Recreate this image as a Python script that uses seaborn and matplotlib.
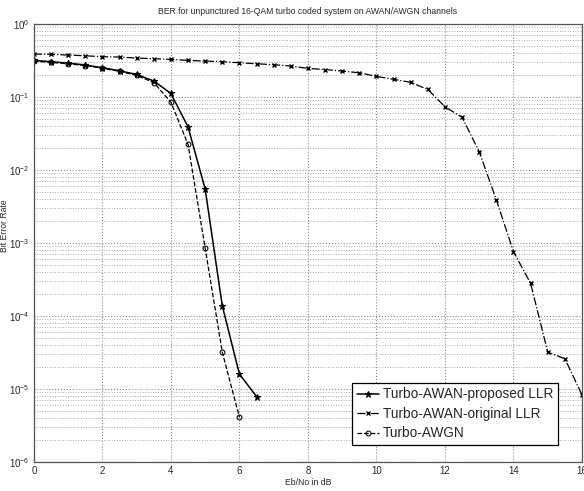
import numpy as np
import pandas as pd
import seaborn as sns
import matplotlib.pyplot as plt
from matplotlib.ticker import LogLocator, NullFormatter, NullLocator

# Eb/No in dB
snr_proposed = [0, 0.5, 1, 1.5, 2, 2.5, 3, 3.5, 4, 4.5, 5, 5.5, 6, 6.5]
ber_proposed = [0.318, 0.305, 0.292, 0.275, 0.252, 0.229, 0.204, 0.166,
                0.112, 0.039, 0.0055, 1.38e-4, 1.6e-5, 7.9e-6]

snr_original = [0, 0.5, 1, 1.5, 2, 2.5, 3, 3.5, 4, 4.5, 5, 5.5, 6, 6.5, 7, 7.5,
                8, 8.5, 9, 9.5, 10, 10.5, 11, 11.5, 12, 12.5, 13, 13.5, 14,
                14.5, 15, 15.5, 16]
ber_original = [0.388, 0.385, 0.376, 0.368, 0.357, 0.353, 0.342, 0.335, 0.328,
                0.318, 0.311, 0.305, 0.295, 0.286, 0.277, 0.266, 0.247, 0.238,
                0.227, 0.215, 0.192, 0.175, 0.159, 0.127, 0.0736, 0.0527,
                0.0178, 0.0039, 7.6e-4, 2.8e-4, 3.2e-5, 2.6e-5, 8.3e-6]

snr_awgn = [0, 0.5, 1, 1.5, 2, 2.5, 3, 3.5, 4, 4.5, 5, 5.5, 6]
ber_awgn = [0.31, 0.298, 0.285, 0.27, 0.248, 0.225, 0.198, 0.158, 0.085,
            0.0225, 8.5e-4, 3.2e-5, 4.1e-6]

sns.set_style("white")
plt.rcParams['font.family'] = ['Liberation Sans', 'DejaVu Sans']
plt.rcParams['mathtext.fontset'] = 'custom'
plt.rcParams['mathtext.rm'] = 'Liberation Sans'

fig = plt.figure(figsize=(5.84, 4.91), dpi=100)
ax = fig.add_axes([0.058, 0.059, 0.9386, 0.892])

sns.lineplot(x=snr_proposed, y=ber_proposed, ax=ax, color='black', lw=1.1,
             linestyle='-', marker='*', markersize=5, markeredgecolor='black',
             label='Turbo-AWAN-proposed LLR')
sns.lineplot(x=snr_original, y=ber_original, ax=ax, color='black', lw=0.9,
             linestyle='-.', marker='x', markersize=3, markeredgewidth=1,
             markeredgecolor='black', label='Turbo-AWAN-original LLR')
sns.lineplot(x=snr_awgn, y=ber_awgn, ax=ax, color='black', lw=0.9,
             linestyle='--', marker='o', markersize=3.5, markerfacecolor='none',
             markeredgecolor='black', label='Turbo-AWGN')

ax.set_yscale('log')
ax.set_xlim(0, 16)
ax.set_ylim(1e-6, 1)
ax.set_xticks(range(0, 17, 2))
ax.xaxis.set_minor_locator(NullLocator())
ax.yaxis.set_major_locator(LogLocator(base=10, numticks=10))
ax.yaxis.set_minor_locator(LogLocator(base=10, subs=np.arange(2, 10), numticks=10))
ax.yaxis.set_minor_formatter(NullFormatter())

ax.grid(True, which='major', axis='both', linestyle=':', color='#8c8c8c', lw=0.8)
ax.grid(True, which='minor', axis='y', linestyle=':', color='#aaaaaa', lw=0.7)
ax.tick_params(axis='both', which='both', direction='in', labelsize=7,
               color='#444444', pad=3)
ax.tick_params(which='major', length=4)
ax.tick_params(which='minor', length=2)
for s in ax.spines.values():
    s.set_color('#555555')
    s.set_linewidth(0.9)

ax.set_title('BER for unpunctured 16-QAM turbo coded system on AWAN/AWGN channels',
             fontsize=6.2, pad=7)
ax.set_xlabel('Eb/No in dB', fontsize=6.2, labelpad=1)
ax.set_ylabel('Bit Error Rate', fontsize=6.2)
ax.yaxis.set_label_coords(-0.045, 0.54)

leg = ax.legend(loc='lower right', bbox_to_anchor=(0.969, 0.023), fontsize=9.8,
                handlelength=1.6, handletextpad=0.3, borderpad=0.35,
                labelspacing=0.4, fancybox=False, framealpha=1,
                edgecolor='black')
leg.get_frame().set_linewidth(0.9)

fig.savefig('out.png', dpi=100)
